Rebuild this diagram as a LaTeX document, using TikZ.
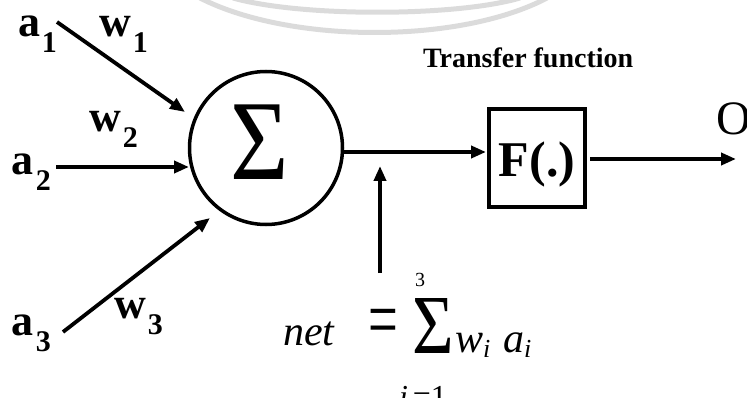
\documentclass[tikz,border=0pt]{standalone}
\usepackage{fontspec}
\setmainfont{Liberation Serif}
\usetikzlibrary{arrows.meta}
\newcommand{\blbl}[2]{\fontsize{44}{44}\selectfont\textbf{#1}\kern2pt\raisebox{-16pt}{\fontsize{30}{30}\selectfont\textbf{#2}}}
\begin{document}
\begin{tikzpicture}[x=1pt,y=-1pt,
  lbl/.style={anchor=base west,inner sep=0pt,outer sep=0pt},
  conn/.style={line width=3.8pt,-{Triangle[length=15pt,width=12pt]}},
  wm/.style={line width=5pt,draw=black!14}]
\useasboundingbox (0,0) rectangle (747,398);
\clip (0,0) rectangle (747,398);
% watermark arcs
\draw[wm] (200,-2) .. controls (290,44) and (460,44) .. (547,-2);
\draw[wm] (233,-2) .. controls (300,17) and (455,17) .. (520,-2);
% summation node
\node[circle,draw,line width=3.5pt,minimum size=153pt,inner sep=0pt] (sum) at (266,148) {};
\node[inner sep=0pt] (sig) at (260,142) {\fontsize{114}{114}\selectfont\scalebox{0.88}[1]{Σ}};
% transfer box
\node[draw,line width=4pt,minimum width=96pt,minimum height=98pt,inner sep=0pt] (F) at (537,158) {};
\node[anchor=base,inner sep=0pt] (Ft) at (537,177) {\fontsize{50}{50}\selectfont\textbf{F(.)}};
\node[lbl] (tf) at (423,68) {\fontsize{28}{28}\selectfont\textbf{Transfer function}};
\node[lbl] (O) at (716,135) {\fontsize{48}{48}\selectfont O};
% input labels
\node[lbl] (a1) at (18,37) {\blbl{a}{1}};
\node[lbl] (w1) at (99,37) {\blbl{w}{1}};
\node[lbl] (a2) at (12,175) {\blbl{a}{2}};
\node[lbl] (w2) at (89,132) {\blbl{w}{2}};
\node[lbl] (a3) at (12,335) {\blbl{a}{3}};
\node[lbl] (w3) at (114,318) {\blbl{w}{3}};
% coordinates for connectors
\coordinate (a1s) at (57,22);
\coordinate (a1e) at (185,112);
\coordinate (a2s) at (56,167);
\coordinate (a2e) at (189,167);
\coordinate (a3s) at (63,332);
\coordinate (a3e) at (210,218);
\coordinate (so) at (343,152);
\coordinate (Fi) at (486,152);
\coordinate (Fo) at (590,159);
\coordinate (out) at (736,159);
\coordinate (ns) at (380,273);
\coordinate (ne) at (380,166);
\draw[conn] (a1s) -- (a1e);
\draw[conn] (a2s) -- (a2e);
\draw[conn] (a3s) -- (a3e);
\draw[conn] (so) -- (Fi);
\draw[conn] (Fo) -- (out);
\draw[conn] (ns) -- (ne);
% formula
\node[lbl] (net) at (283,345) {\fontsize{42}{42}\selectfont\itshape net};
\node[lbl] (eq) at (368,347) {\fontsize{44}{44}\selectfont\scalebox{1.2}[1.9]{=}};
\node[lbl] (bigsum) at (412,353) {\fontsize{84}{84}\selectfont\scalebox{0.85}[1]{Σ}};
\node[lbl] (up) at (415,286) {\fontsize{20}{20}\selectfont 3};
\node[lbl] (wi) at (455,352) {\fontsize{42}{42}\selectfont\itshape w\raisebox{-5pt}{\fontsize{26}{26}\selectfont i}};
\node[lbl] (ai) at (503,352) {\fontsize{42}{42}\selectfont\itshape a\raisebox{-5pt}{\fontsize{26}{26}\selectfont i}};
\node[lbl] (low) at (399,407) {\fontsize{32}{32}\selectfont\itshape i\kern5pt\upshape =1};
\end{tikzpicture}
\end{document}
